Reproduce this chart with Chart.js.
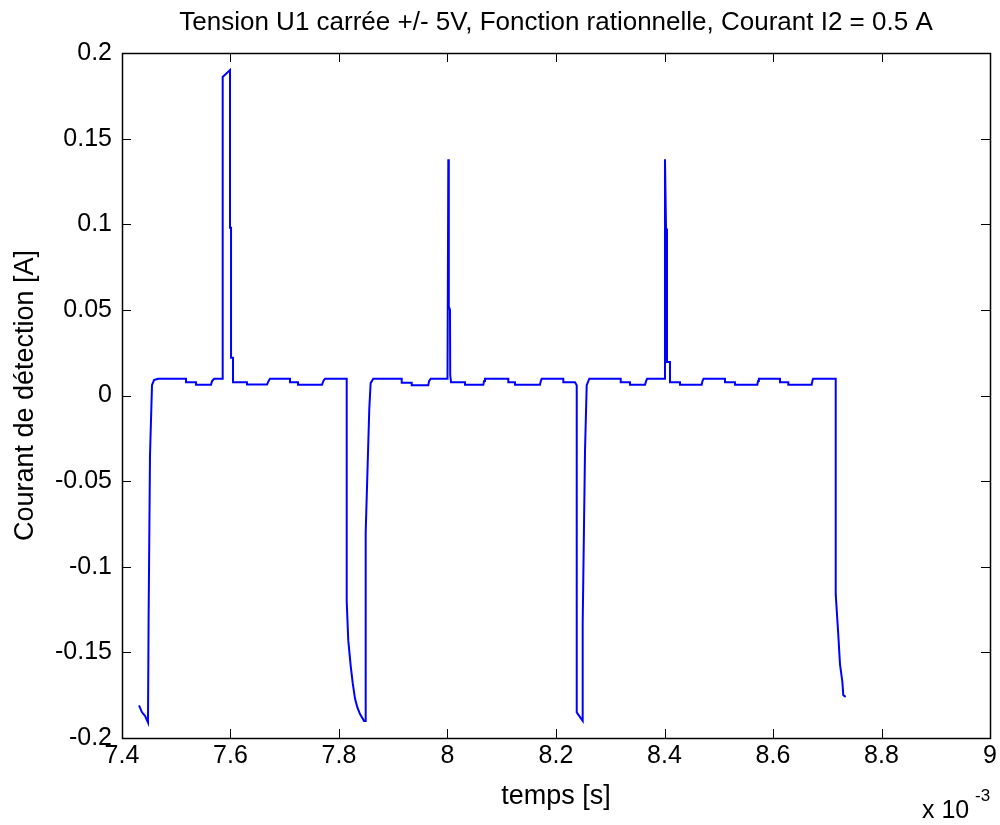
<!DOCTYPE html>
<html>
<head>
<meta charset="utf-8">
<title>Courant de détection</title>
<script src="https://cdn.jsdelivr.net/npm/chart.js@4/dist/chart.umd.min.js"></script>
<style>
    html, body { margin: 0; padding: 0; background: #fff; }
    #wrap { width: 1000px; height: 825px; }
</style>
</head>
<body>
<div id="wrap"><canvas id="detectionChart" width="1000" height="825"></canvas></div>
<script>
/* ============================================
   COURANT DE DETECTION - CHART
   ============================================ */

// temps en ms (axe affiché x 10^-3 s)
const timeMs = [
    7.4313, 7.4369, 7.4424, 7.4479, 7.4490, 7.4516, 7.4553, 7.4590, 7.4664,
    7.5180, 7.5180, 7.5364, 7.5364, 7.5641, 7.5660, 7.5700, 7.5856,
    7.5856, 7.5991, 7.5991, 7.6010, 7.6010, 7.6046, 7.6046,
    7.6304, 7.6304, 7.6673, 7.6700, 7.6728,
    7.7097, 7.7097, 7.7244, 7.7244, 7.7687, 7.7710, 7.7742, 7.8142,
    7.8142, 7.8171, 7.8216, 7.8253, 7.8295, 7.8337, 7.8387, 7.8461, 7.8492,
    7.8492, 7.8558, 7.8583, 7.8632,
    7.9156, 7.9156, 7.9340, 7.9340, 7.9646, 7.9660, 7.9690, 8.0000,
    8.0015, 8.0024, 8.0046, 8.0050, 8.0065,
    8.0323, 8.0323, 8.0660, 8.0675, 8.0691, 8.1121, 8.1121, 8.1244, 8.1244,
    8.1705, 8.1720, 8.1736, 8.2135, 8.2135, 8.2350,
    8.2382, 8.2382, 8.2492,
    8.2492, 8.2535, 8.2566, 8.2614,
    8.3193, 8.3193, 8.3364, 8.3364, 8.3641, 8.3660, 8.3680, 8.4009,
    8.4009, 8.4028, 8.4046, 8.4101, 8.4101,
    8.4286, 8.4286, 8.4686, 8.4700, 8.4720, 8.5115, 8.5115, 8.5300, 8.5300,
    8.5711, 8.5725, 8.5740, 8.6129, 8.6129, 8.6282, 8.6282, 8.6713, 8.6725,
    8.6740, 8.7156,
    8.7156, 8.7204, 8.7235, 8.7278, 8.7296, 8.7340
];

// courant en A
const currentA = [
    -0.181, -0.185, -0.187, -0.191, -0.132, -0.035, 0.006, 0.0090, 0.0098,
    0.0098, 0.0078, 0.0078, 0.0063, 0.0063, 0.0084, 0.0098, 0.0098,
    0.186, 0.190, 0.098, 0.098, 0.022, 0.022, 0.0078,
    0.0078, 0.0064, 0.0064, 0.0084, 0.0098,
    0.0098, 0.0078, 0.0078, 0.0063, 0.0063, 0.0084, 0.0098, 0.0098,
    -0.120, -0.143, -0.158, -0.168, -0.177, -0.182, -0.186, -0.190, -0.190,
    -0.080, -0.008, 0.0072, 0.0098,
    0.0098, 0.0075, 0.0075, 0.0060, 0.0060, 0.0084, 0.0098, 0.0098,
    0.138, 0.052, 0.050, 0.012, 0.0078,
    0.0078, 0.0063, 0.0063, 0.0084, 0.0098, 0.0098, 0.0078, 0.0078, 0.0063,
    0.0063, 0.0084, 0.0098, 0.0098, 0.0078, 0.0078,
    0.0060, -0.185, -0.190,
    -0.133, -0.032, 0.006, 0.0098,
    0.0098, 0.0078, 0.0078, 0.0063, 0.0063, 0.0084, 0.0098, 0.0098,
    0.138, 0.0975, 0.0195, 0.0195, 0.0078,
    0.0078, 0.0063, 0.0063, 0.0084, 0.0098, 0.0098, 0.0078, 0.0078, 0.0063,
    0.0063, 0.0084, 0.0098, 0.0098, 0.0078, 0.0078, 0.0063, 0.0063, 0.0084,
    0.0098, 0.0098,
    -0.116, -0.140, -0.157, -0.167, -0.175, -0.176
];

const xTicks = [7.4, 7.6, 7.8, 8, 8.2, 8.4, 8.6, 8.8, 9];
const xTickLabels = ['7.4', '7.6', '7.8', '8', '8.2', '8.4', '8.6', '8.8', '9'];
const yTicks = [-0.2, -0.15, -0.1, -0.05, 0, 0.05, 0.1, 0.15, 0.2];
const yTickLabels = ['-0.2', '-0.15', '-0.1', '-0.05', '0', '0.05', '0.1', '0.15', '0.2'];

const FONT = '"Liberation Sans", Arial, Helvetica, sans-serif';

(function() {
    'use strict';

    document.addEventListener('DOMContentLoaded', function() {
        initDetectionChart();
    });

    // box + inside ticks + exponent, matlab style
    const matlabAxes = {
        id: 'matlabAxes',
        afterDraw: function(chart) {
            const ctx = chart.ctx;
            const area = chart.chartArea;
            const xs = chart.scales.x;
            const ys = chart.scales.y;
            const len = 9;

            ctx.save();
            ctx.strokeStyle = '#000';
            ctx.lineWidth = 1;

            xTicks.forEach(function(v) {
                const px = Math.round(xs.getPixelForValue(v)) + 0.5;
                ctx.beginPath();
                ctx.moveTo(px, area.bottom);
                ctx.lineTo(px, area.bottom - len);
                ctx.moveTo(px, area.top);
                ctx.lineTo(px, area.top + len);
                ctx.stroke();
            });

            yTicks.forEach(function(v) {
                const py = Math.round(ys.getPixelForValue(v)) + 0.5;
                ctx.beginPath();
                ctx.moveTo(area.left, py);
                ctx.lineTo(area.left + len, py);
                ctx.moveTo(area.right, py);
                ctx.lineTo(area.right - len, py);
                ctx.stroke();
            });

            ctx.lineWidth = 1.5;
            ctx.strokeRect(Math.round(area.left) + 0.5, Math.round(area.top) + 0.5,
                Math.round(area.right - area.left), Math.round(area.bottom - area.top));

            // x 10^-3
            ctx.fillStyle = '#000';
            ctx.textBaseline = 'alphabetic';
            ctx.textAlign = 'left';
            ctx.font = '25px ' + FONT;
            ctx.fillText('x 10', 922, 818);
            ctx.font = '17px ' + FONT;
            ctx.fillText('-3', 975, 801);
            ctx.restore();
        }
    };

    function initDetectionChart() {
        const canvas = document.getElementById('detectionChart');
        if (!canvas) return;

        const ctx = canvas.getContext('2d');

        const points = timeMs.map(function(t, i) {
            return { x: t, y: currentA[i] };
        });

        new Chart(ctx, {
            type: 'line',
            data: {
                datasets: [{
                    label: 'Courant',
                    data: points,
                    borderColor: '#0000ff',
                    borderWidth: 2,
                    pointRadius: 0,
                    tension: 0,
                    fill: false
                }]
            },
            options: {
                responsive: false,
                animation: false,
                layout: {
                    padding: { left: 0, right: 10, top: 0, bottom: 0 }
                },
                plugins: {
                    legend: { display: false },
                    tooltip: { enabled: false },
                    title: {
                        display: true,
                        fullSize: false,
                        text: 'Tension U1 carrée +/- 5V, Fonction rationnelle, Courant I2 = 0.5 A',
                        color: '#000',
                        font: { family: FONT, size: 26, weight: 'normal', lineHeight: 1.2 },
                        padding: { top: 7, bottom: 14.8 }
                    }
                },
                scales: {
                    x: {
                        type: 'linear',
                        min: 7.4,
                        max: 9,
                        afterBuildTicks: function(scale) {
                            scale.ticks = xTicks.map(function(v) { return { value: v }; });
                        },
                        afterFit: function(scale) {
                            scale.height = 87;
                        },
                        ticks: {
                            color: '#000',
                            padding: 3,
                            maxRotation: 0,
                            autoSkip: false,
                            font: { family: FONT, size: 25 },
                            callback: function(value) {
                                const i = xTicks.indexOf(value);
                                return i >= 0 ? xTickLabels[i] : '';
                            }
                        },
                        grid: { display: false, drawTicks: false },
                        border: { display: false },
                        title: {
                            display: true,
                            text: 'temps [s]',
                            color: '#000',
                            font: { family: FONT, size: 27, lineHeight: 1.2 },
                            padding: { top: 0, bottom: 12 }
                        }
                    },
                    y: {
                        type: 'linear',
                        min: -0.2,
                        max: 0.2,
                        afterBuildTicks: function(scale) {
                            scale.ticks = yTicks.map(function(v) { return { value: v }; });
                        },
                        afterFit: function(scale) {
                            scale.width = 122;
                        },
                        ticks: {
                            color: '#000',
                            padding: 10,
                            autoSkip: false,
                            font: { family: FONT, size: 25 },
                            callback: function(value) {
                                const i = yTicks.indexOf(value);
                                return i >= 0 ? yTickLabels[i] : '';
                            }
                        },
                        grid: { display: false, drawTicks: false },
                        border: { display: false },
                        title: {
                            display: true,
                            text: 'Courant de détection [A]',
                            color: '#000',
                            font: { family: FONT, size: 27, lineHeight: 1.2 },
                            padding: { top: 9, bottom: 0 }
                        }
                    }
                }
            },
            plugins: [matlabAxes]
        });
    }

})();
</script>
</body>
</html>
